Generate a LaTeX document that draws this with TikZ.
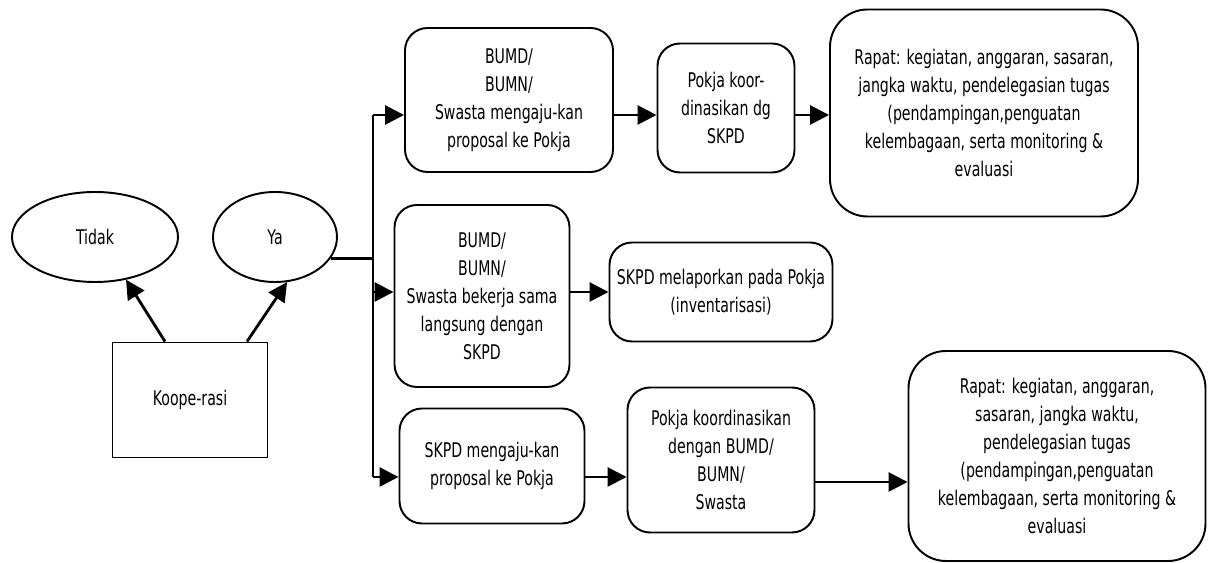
\documentclass[tikz,border=0pt]{standalone}
\usepackage{fontspec}
\setmainfont{DejaVu Sans}[FakeStretch=0.7]
\usetikzlibrary{arrows.meta,shapes.geometric}

\tikzset{
  flow/.style={-{Triangle[length=3.8mm,width=3.8mm]}, line width=1.6pt},
  stepbox/.style={rectangle, rounded corners=0.45cm, draw=black, line width=1.1pt,
    align=center, inner sep=2pt, font=\fontsize{11.5}{15.9}\selectfont},
  choice/.style={ellipse, draw=black, line width=1.1pt,
    font=\fontsize{11.5}{15.9}\selectfont}
}

\begin{document}
\begin{tikzpicture}
  \useasboundingbox (0,0) rectangle (24.18,11.26);

  % decision part
  \node[choice, minimum width=3.32cm, minimum height=1.8cm] (tidak) at (1.90,6.52) {Tidak};
  \node[choice, minimum width=2.48cm, minimum height=1.8cm] (ya) at (5.50,6.52) {Ya};
  \node[rectangle, draw=black, line width=1.1pt,
    minimum width=3.1cm, minimum height=2.3cm,
    font=\fontsize{11.5}{15.9}\selectfont] (koop) at (3.80,3.26) {Koope-rasi};

  \draw[flow] ([xshift=-0.5cm]koop.north) -- (tidak.-54);
  \draw[flow] ([xshift=1.14cm]koop.north) -- (ya.-75);

  % trunk
  \coordinate (ttop) at (7.46,8.96);
  \coordinate (tmid) at (7.46,5.42);
  \coordinate (tbot) at (7.46,1.72);
  \draw[line width=1.6pt] (ya.-21) -- (ya.-21 -| ttop);
  \draw[line width=1.6pt] (ttop) -- (tbot);

  % row 1
  \node[stepbox, minimum width=4.16cm, minimum height=2.88cm] (bumd1) at (10.18,9.26)
    {BUMD/\\BUMN/\\Swasta mengaju-kan\\proposal ke Pokja};
  \node[stepbox, minimum width=2.74cm, minimum height=2.58cm] (pokja1) at (14.52,9.10)
    {Pokja koor-\\dinasikan dg\\SKPD};
  \node[stepbox, rounded corners=0.75cm, minimum width=6.16cm, minimum height=4.14cm] (rapat1) at (19.68,9.00)
    {Rapat: kegiatan, anggaran, sasaran,\\jangka waktu, pendelegasian tugas\\(pendampingan,penguatan\\kelembagaan, serta monitoring \&\\evaluasi};
  \draw[flow] (ttop) -- (ttop -| bumd1.west);
  \draw[flow] (bumd1.east |- ttop) -- (pokja1.west |- ttop);
  \draw[flow] (pokja1.east |- ttop) -- (rapat1.west |- ttop);

  % row 2
  \node[stepbox, minimum width=3.5cm, minimum height=3.64cm] (bumd2) at (9.64,5.34)
    {BUMD/\\BUMN/\\Swasta bekerja sama\\langsung dengan\\SKPD};
  \node[stepbox, minimum width=4.46cm, minimum height=1.98cm] (skpd2) at (14.42,5.42)
    {SKPD melaporkan pada Pokja\\(inventarisasi)};
  \draw[flow] (tmid) -- (tmid -| bumd2.west);
  \draw[flow] (bumd2.east |- tmid) -- (skpd2.west |- tmid);

  % row 3
  \node[stepbox, minimum width=3.7cm, minimum height=2.3cm] (skpd3) at (9.84,1.94)
    {SKPD mengaju-kan\\proposal ke Pokja};
  \node[stepbox, minimum width=3.74cm, minimum height=2.9cm] (pokja3) at (14.42,2.06)
    {Pokja koordinasikan\\dengan BUMD/\\BUMN/\\Swasta};
  \node[stepbox, rounded corners=0.75cm, minimum width=5.94cm, minimum height=4.2cm] (rapat3) at (21.14,2.14)
    {Rapat: kegiatan, anggaran,\\sasaran, jangka waktu,\\pendelegasian tugas\\(pendampingan,penguatan\\kelembagaan, serta monitoring \&\\evaluasi};
  \draw[flow] (tbot) -- (tbot -| skpd3.west);
  \draw[flow] (skpd3.east |- tbot) -- (pokja3.west |- tbot);
  \draw[flow] ([yshift=-0.1cm]pokja3.east |- tbot) -- ([yshift=-0.1cm]rapat3.west |- tbot);
\end{tikzpicture}
\end{document}
